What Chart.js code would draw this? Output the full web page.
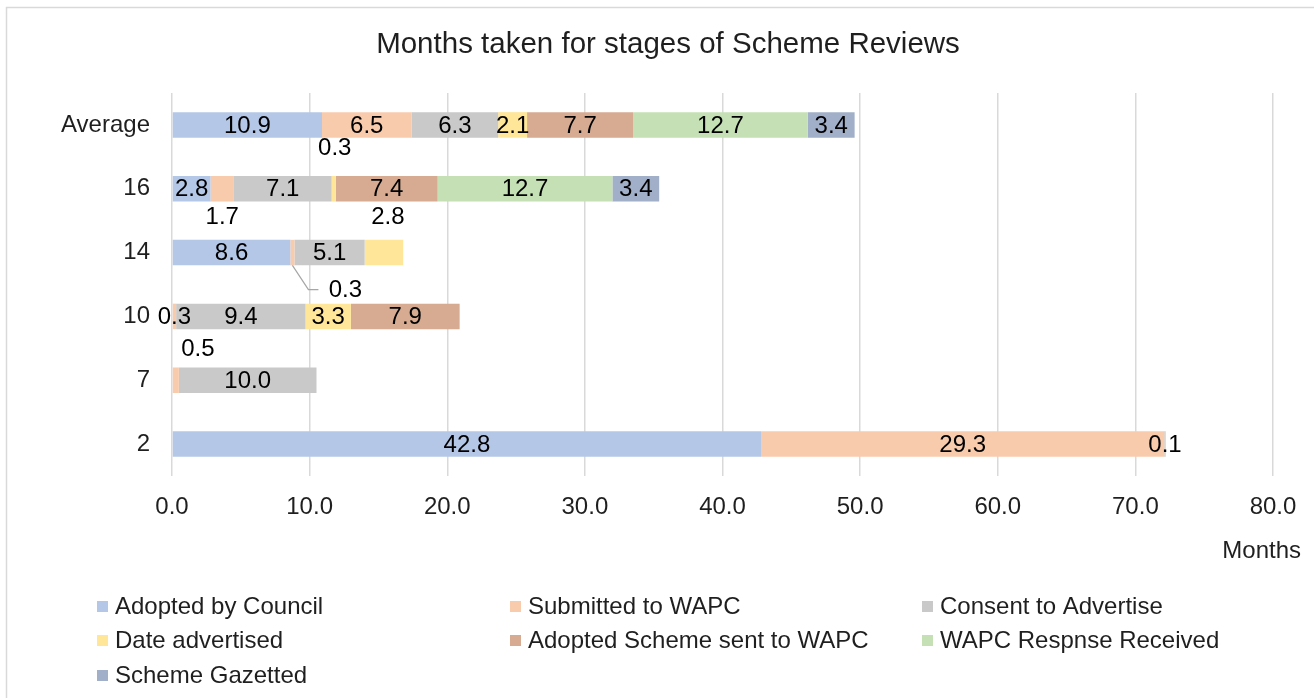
<!DOCTYPE html>
<html>
<head>
<meta charset="utf-8">
<script src="https://cdn.jsdelivr.net/npm/chart.js@4"></script>
<style>
html,body{margin:0;padding:0;background:#fff;}
canvas{display:block;}
</style>
</head>
<body>
<canvas id="c" width="1314" height="698"></canvas>
<script>
// ---- data ----
const categories = ['Average', '16', '14', '10', '7', '2'];
const seriesNames = ['Adopted by Council', 'Submitted to WAPC', 'Consent to Advertise', 'Date advertised', 'Adopted Scheme sent to WAPC', 'WAPC Respnse Received', 'Scheme Gazetted'];
const adoptedByCouncil   = [10.9, 2.8, 8.6, null, null, 42.8];
const submittedToWAPC    = [6.5, 1.7, 0.3, 0.3, 0.5, 29.3];
const consentToAdvertise = [6.3, 7.1, 5.1, 9.4, 10.0, 0.1];
const dateAdvertised     = [2.1, 0.3, 2.8, 3.3, null, null];
const adoptedSchemeSent  = [7.7, 7.4, null, 7.9, null, null];
const wapcResponse       = [12.7, 12.7, null, null, null, null];
const schemeGazetted     = [3.4, 3.4, null, null, null, null];
const xMin = 0, xMax = 80, xStep = 10;
const chartTitle = 'Months taken for stages of Scheme Reviews';
const xAxisTitle = 'Months';

// ---- styles ----
const colors = ['#b4c7e7', '#f8cbad', '#c9c9c9', '#ffe699', '#d6ab91', '#c5e0b4', '#a2afc9'];
const FONT = '"Liberation Sans", Arial, sans-serif';
const TEXT = '#1f1f1f';
// label displacement for small segments (datasetIndex,categoryIndex)
const labelOffsets = {
  '3,1': {dx: 1, dy: -41},
  '1,1': {dx: 0, dy: 28},
  '3,2': {dx: 4, dy: -36},
  '1,2': {dx: 53, dy: 37, leader: true},
  '1,4': {dx: 22, dy: -32}
};

const seriesData = [adoptedByCouncil, submittedToWAPC, consentToAdvertise, dateAdvertised, adoptedSchemeSent, wapcResponse, schemeGazetted];

const datasets = seriesNames.map((n, i) => ({
  label: n,
  data: seriesData[i],
  backgroundColor: colors[i],
  borderWidth: 0,
  barPercentage: 0.4,
  categoryPercentage: 1.0
}));

const framePlugin = {
  id: 'frame',
  beforeDraw(chart) {
    const ctx = chart.ctx;
    ctx.save();
    ctx.fillStyle = '#fff';
    ctx.fillRect(0, 0, chart.width, chart.height);
    ctx.strokeStyle = '#d9d9d9';
    ctx.lineWidth = 1.5;
    ctx.strokeRect(6.5, 7.5, chart.width + 50, chart.height + 50);
    ctx.restore();
  }
};

const labelPlugin = {
  id: 'segLabels',
  afterDatasetsDraw(chart) {
    const ctx = chart.ctx;
    ctx.save();
    ctx.font = '24px ' + FONT;
    ctx.fillStyle = '#000';
    ctx.textAlign = 'center';
    ctx.textBaseline = 'middle';
    chart.data.datasets.forEach((ds, i) => {
      const meta = chart.getDatasetMeta(i);
      meta.data.forEach((bar, j) => {
        const v = ds.data[j];
        if (v == null) return;
        const p = labelOffsets[i + ',' + j] || {dx: 0, dy: 0};
        const cx = (bar.x + bar.base) / 2;
        const cy = bar.y;
        const lx = cx + p.dx, ly = cy + p.dy;
        if (p.leader) {
          ctx.strokeStyle = '#a6a6a6';
          ctx.lineWidth = 1.2;
          ctx.beginPath();
          ctx.moveTo(cx, cy + bar.height / 2);
          ctx.lineTo(lx - 37, ly);
          ctx.lineTo(lx - 27, ly);
          ctx.stroke();
        }
        ctx.fillText(v.toFixed(1), lx, ly + 1);
      });
    });
    ctx.restore();
  }
};

const decorPlugin = {
  id: 'decor',
  afterDraw(chart) {
    const ctx = chart.ctx;
    ctx.save();
    ctx.fillStyle = TEXT;
    ctx.textBaseline = 'middle';
    // title
    ctx.font = '29.5px ' + FONT;
    ctx.textAlign = 'center';
    ctx.fillText(chartTitle, 668, 45);
    // axis title
    ctx.font = '24px ' + FONT;
    ctx.textAlign = 'right';
    ctx.fillText(xAxisTitle, 1301, 551);
    // legend
    const colX = [97, 510, 922];
    const rowY = [606, 640, 675];
    ctx.textAlign = 'left';
    chart.data.datasets.forEach((ds, i) => {
      const c = i % 3, r = Math.floor(i / 3);
      const x = colX[c], y = rowY[r];
      ctx.fillStyle = ds.backgroundColor;
      ctx.fillRect(x, y - 5, 11, 11);
      ctx.fillStyle = TEXT;
      ctx.fillText(ds.label, x + 18, y + 1);
    });
    ctx.restore();
  }
};

new Chart(document.getElementById('c'), {
  type: 'bar',
  data: { labels: categories, datasets: datasets },
  options: {
    indexAxis: 'y',
    responsive: false,
    animation: false,
    layout: { padding: { top: 93, right: 41, bottom: 172, left: 0 } },
    plugins: {
      legend: { display: false },
      title: { display: false },
      tooltip: { enabled: false }
    },
    scales: {
      x: {
        stacked: true,
        min: xMin, max: xMax,
        ticks: {
          stepSize: xStep,
          callback: v => Number(v).toFixed(1),
          font: { size: 24, family: FONT },
          color: TEXT,
          padding: 17
        },
        grid: { color: '#d9d9d9', lineWidth: 1.5, drawTicks: false },
        border: { display: false },
        afterFit(s) { s.height = 50; }
      },
      y: {
        stacked: true,
        ticks: {
          font: { size: 24, family: FONT },
          color: TEXT,
          padding: 22
        },
        grid: { display: false, drawTicks: false },
        border: { display: false },
        afterFit(s) { s.width = 172; }
      }
    }
  },
  plugins: [framePlugin, labelPlugin, decorPlugin]
});
</script>
</body>
</html>
